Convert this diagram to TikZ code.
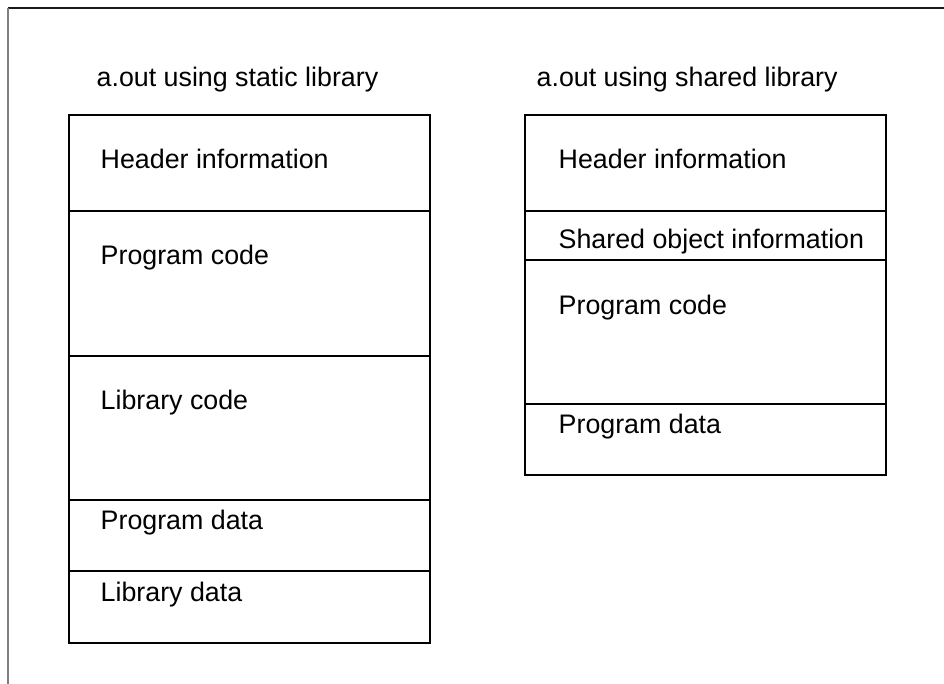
\documentclass[tikz,border=0pt]{standalone}
\usepackage{fontspec}
\setmainfont{Liberation Sans}
\begin{document}
\begin{tikzpicture}[x=1pt,y=-1pt,
  seg/.style={draw,line width=2pt},
  lbl/.style={anchor=base west,inner sep=0pt,font=\fontsize{26.8}{30}\selectfont}]
\useasboundingbox (0,0) rectangle (944,684);
% page frame (top and left edges)
\draw[line width=1.5pt,black!90] (8,8) -- (944,8);
\draw[line width=1.5pt,gray] (8,8) -- (8,684);

% static layout
\node[lbl] (tS) at (96.5,86.7) {a.out using static library};
\draw[seg] (69,115) rectangle (430,211);
\draw[seg] (69,211) rectangle (430,355.7);
\draw[seg] (69,355.7) rectangle (430,500);
\draw[seg] (69,500) rectangle (430,571);
\draw[seg] (69,571) rectangle (430,643);
\node[lbl] (hS)  at (100.5,169)   {Header information};
\node[lbl] (pcS) at (100.5,265)   {Program code};
\node[lbl] (lcS) at (100.5,409.5) {Library code};
\node[lbl] (pdS) at (100.5,529)   {Program data};
\node[lbl] (ldS) at (100.5,601.5) {Library data};

% shared layout
\node[lbl] (tD) at (536.5,86.7) {a.out using shared library};
\draw[seg] (525,115) rectangle (886,211);
\draw[seg] (525,211) rectangle (886,260);
\draw[seg] (525,260) rectangle (886,404);
\draw[seg] (525,404) rectangle (886,475);
\node[lbl] (hD)  at (558.5,169)   {Header information};
\node[lbl] (soD) at (558.5,248.5) {Shared object information};
\node[lbl] (pcD) at (558.5,314)   {Program code};
\node[lbl] (pdD) at (558.5,433.5) {Program data};
\end{tikzpicture}
\end{document}
